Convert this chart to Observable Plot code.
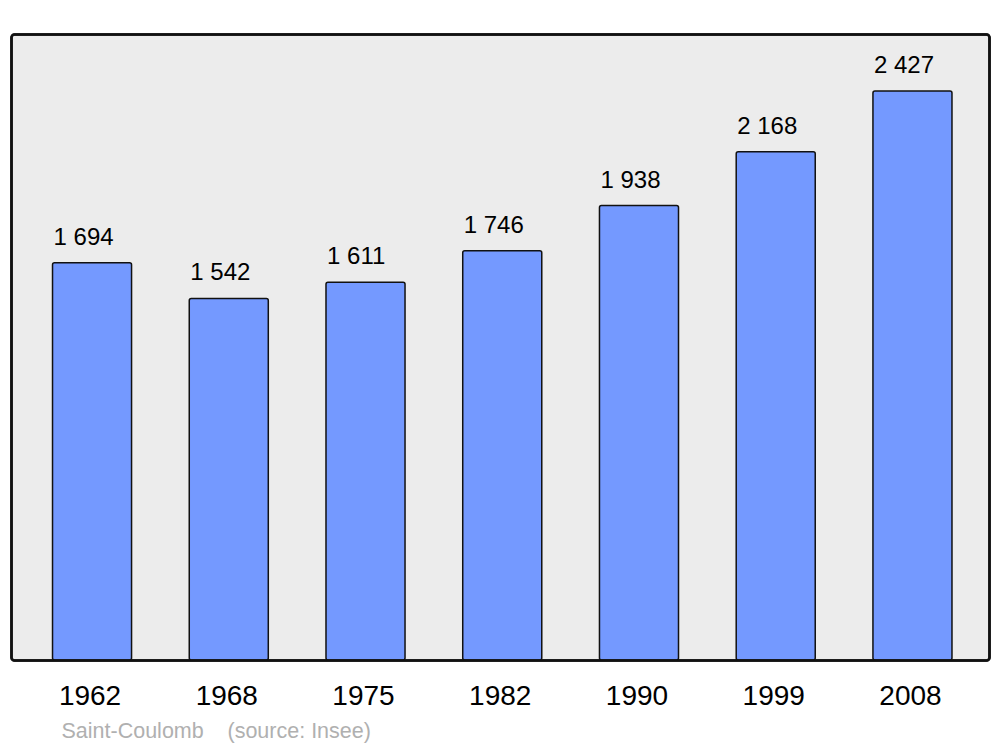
<!DOCTYPE html>
<html>
<head>
<meta charset="utf-8">
<script src="https://cdn.jsdelivr.net/npm/d3@7"></script>
<script src="https://cdn.jsdelivr.net/npm/@observablehq/plot@0.6"></script>
<style>
  html, body { margin: 0; padding: 0; background: #fff; }
  svg { display: block; font-family: "Liberation Sans", Arial, sans-serif; }
</style>
</head>
<body>
<div id="chart"></div>
<script>
const years = ["1962", "1968", "1975", "1982", "1990", "1999", "2008"];
const population = [1694, 1542, 1611, 1746, 1938, 2168, 2427];
const valueLabels = ["1 694", "1 542", "1 611", "1 746", "1 938", "2 168", "2 427"];
const commune = "Saint-Coulomb";
const source = "(source: Insee)";

const data = years.map((y, i) => ({year: y, pop: population[i], label: valueLabels[i]}));

const chart = Plot.plot({
  width: 1000,
  height: 747,
  marginTop: 34,
  marginBottom: 87,
  marginLeft: 11,
  marginRight: 11,
  style: {fontFamily: "'Liberation Sans', Arial, sans-serif", background: "#ffffff"},
  x: {type: "band", domain: years, range: [11.5, 993], paddingInner: 0.422, paddingOuter: 0.3, round: false, label: null},
  y: {domain: [0, 2670], axis: null},
  marks: [
    Plot.frame({fill: "#ececec", stroke: "#111", strokeWidth: 2.5, rx: 3}),
    Plot.barY(data, {x: "year", y: "pop", fill: "#7499ff", stroke: "#111", strokeWidth: 1.5, rx: 2}),
    Plot.frame({fill: "none", stroke: "#111", strokeWidth: 2.5, rx: 3}),
    Plot.text(data, {x: "year", y: "pop", text: "label", textAnchor: "start", lineAnchor: "bottom", dx: -39, dy: -18.5, fontSize: 24, fill: "#000"}),
    Plot.axisX({tickSize: 0, tickPadding: 25, fontSize: 28, dx: -2.5, color: "#000", label: null}),
    Plot.text([commune], {frameAnchor: "bottom-left", textAnchor: "start", lineAnchor: "bottom", dx: 50, dy: 77, fontSize: 21.5, fill: "#b0b0b0"}),
    Plot.text([source], {frameAnchor: "bottom-left", textAnchor: "start", lineAnchor: "bottom", dx: 216, dy: 77, fontSize: 21.5, fill: "#b0b0b0"})
  ]
});
document.getElementById("chart").appendChild(chart);
</script>
</body>
</html>
